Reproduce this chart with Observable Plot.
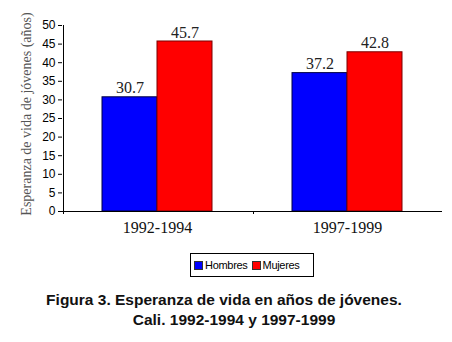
<!DOCTYPE html>
<html><head><meta charset="utf-8">
<script src="https://cdn.jsdelivr.net/npm/d3@7"></script>
<script src="https://cdn.jsdelivr.net/npm/@observablehq/plot@0.6"></script>
<style>
body{margin:0;background:#fff;width:452px;height:342px;position:relative;overflow:hidden}
#chart svg{display:block}
#ylabel{position:absolute;left:27px;top:114px;transform:translate(-50%,-50%) rotate(-90deg);white-space:nowrap;font-family:"Liberation Serif","Times New Roman",serif;font-size:14px;color:#555}
#legend{position:absolute;left:190px;top:253px;width:124px;height:24px;border:1px solid #000;box-sizing:border-box;font-family:"Liberation Sans",Arial,sans-serif;font-size:11px;display:flex;align-items:center;padding-left:3px;letter-spacing:-0.3px}
#legend .sw{display:inline-block;width:7px;height:7px;border:1px solid #333;margin-right:2px}
#legend .item{display:flex;align-items:center;margin-right:4px}
#caption{position:absolute;left:0;width:452px;top:290px;font-family:"Liberation Sans",Arial,sans-serif;font-weight:bold;font-size:15.5px;line-height:20px;color:#111}
#caption div{text-align:center;white-space:nowrap}
</style></head>
<body>
<div id="chart"></div>
<div id="ylabel"></div>
<div id="legend"></div>
<div id="caption"></div>
<script>
const periods = ["1992-1994", "1997-1999"];
const sexes = ["Hombres", "Mujeres"];
const hombres = [30.7, 37.2];
const mujeres = [45.7, 42.8];
const fills = ["#0000ff", "#ff0000"];
const strokes = ["#000044", "#7a0000"];
const yTicks = [0, 5, 10, 15, 20, 25, 30, 35, 40, 45, 50];
const yLabel = "Esperanza de vida de jóvenes (años)";
const captionLines = ["Figura 3. Esperanza de vida en años de jóvenes.", "Cali. 1992-1994 y 1997-1999"];

const data = periods.flatMap((p, i) => [
  {period: p, sex: sexes[0], value: hombres[i]},
  {period: p, sex: sexes[1], value: mujeres[i]}
]);

const serif = "'Liberation Serif','Times New Roman',serif";
const sans = "'Liberation Sans',Arial,sans-serif";
const outerPad = 0.71;

let facetCount = 0;
function axisLines(index, scales, values, dims) {
  const g = d3.create("svg:g").attr("stroke", "#000").attr("stroke-width", 1).attr("fill", "none");
  const y0 = scales.y(0), y50 = scales.y(50);
  const xs = scales.x;
  const bw = typeof xs.bandwidth === "function" ? xs.bandwidth() : (scales.scales && scales.scales.x && scales.scales.x.bandwidth) || 0;
  const left = Math.round(xs(sexes[0]) - outerPad * bw) + 0.5;
  if (facetCount === 0) {
    g.append("line").attr("x1", left).attr("x2", left).attr("y1", y50).attr("y2", y0 + 3);
  } else {
    g.append("line").attr("x1", left).attr("x2", left).attr("y1", y0).attr("y2", y0 + 3);
  }
  facetCount++;
  return g.node();
}

const chart = Plot.plot({
  width: 452,
  height: 245,
  marginLeft: 62,
  marginRight: 10,
  marginTop: 25,
  marginBottom: 34,
  fx: {domain: periods, padding: 0},
  x: {domain: sexes, paddingInner: 0, paddingOuter: outerPad, axis: null},
  y: {domain: [0, 50]},
  marks: [
    Plot.barY(data.filter(d => d.sex === sexes[0]), {fx: "period", x: "sex", y: "value", fill: fills[0], stroke: strokes[0], strokeWidth: 1}),
    Plot.barY(data.filter(d => d.sex === sexes[1]), {fx: "period", x: "sex", y: "value", fill: fills[1], stroke: strokes[1], strokeWidth: 1}),
    Plot.text(data, {fx: "period", x: "sex", y: "value", text: d => d.value.toFixed(1), dy: -9, fontFamily: serif, fontSize: 16, fill: "#222"}),
    Plot.ruleY([0], {stroke: "#000"}),
    axisLines,
    Plot.axisY({ticks: yTicks, tickSize: 4, tickPadding: 3, label: null, fontFamily: sans, fontSize: 12, fill: "#000", stroke: "#000"}),
    Plot.axisFx({anchor: "bottom", tickSize: 0, tickPadding: 10, label: null, fontFamily: serif, fontSize: 16, fill: "#111"})
  ]
});
document.getElementById("chart").appendChild(chart);

document.getElementById("ylabel").textContent = yLabel;

const legend = document.getElementById("legend");
sexes.forEach((s, i) => {
  const item = document.createElement("span");
  item.className = "item";
  const sw = document.createElement("span");
  sw.className = "sw";
  sw.style.background = fills[i];
  item.appendChild(sw);
  item.appendChild(document.createTextNode(s));
  legend.appendChild(item);
});

const cap = document.getElementById("caption");
const capShift = [-2, 8];
captionLines.forEach((l, i) => {
  const d = document.createElement("div");
  d.textContent = l;
  d.style.transform = `translateX(${capShift[i]}px)`;
  cap.appendChild(d);
});
</script>
</body></html>
